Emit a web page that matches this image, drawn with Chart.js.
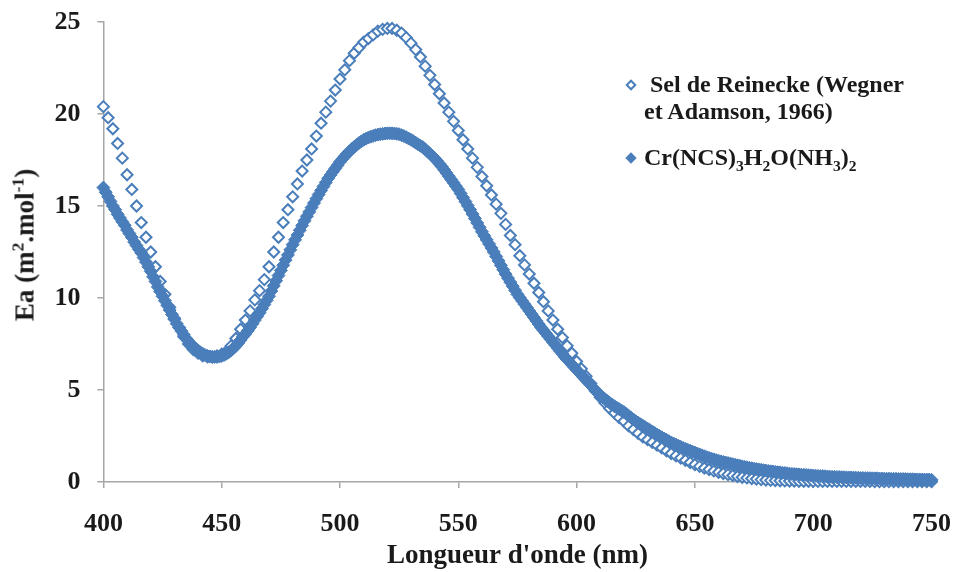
<!DOCTYPE html>
<html>
<head>
<meta charset="utf-8">
<script src="https://cdn.jsdelivr.net/npm/chart.js@4/dist/chart.umd.min.js"></script>
<style>
  html, body { margin: 0; padding: 0; background: #fff; }
  #wrap { position: relative; width: 953px; height: 572px; overflow: hidden; }
  #chart { position: absolute; left: 0; top: 0; }
  .serif { font-family: "Liberation Serif", "Times New Roman", serif; font-weight: bold; color: #1a1a1a; }
  #ytitle { position: absolute; left: 25px; top: 245px; font-size: 27px; white-space: nowrap;
            transform: translate(-50%, -50%) rotate(-90deg); }
  #legend { position: absolute; left: 622px; top: 71px; font-size: 24px; line-height: 27px; }
  .item { position: relative; padding-left: 22px; }
  .mk { position: absolute; left: 5px; width: 8px; height: 8px; transform: rotate(45deg); box-sizing: border-box; }
  .mk.open { border: 2px solid #4A7EBB; background: #fff; top: 10px; }
  .mk.fill { background: #4A7EBB; top: 10px; }
  sup, sub { font-size: 65%; line-height: 0; }
</style>
</head>
<body>
<div id="wrap">
  <canvas id="chart" width="953" height="572"></canvas>
  <div id="ytitle" class="serif">Ea (m<sup>2</sup>.mol<sup>-1</sup>)</div>
  <div id="legend" class="serif">
    <div class="item"><span class="mk open"></span>&nbsp;Sel de Reinecke (Wegner<br>et Adamson, 1966)</div>
    <div class="item" style="margin-top:19px"><span class="mk fill"></span>Cr(NCS)<sub>3</sub>H<sub>2</sub>O(NH<sub>3</sub>)<sub>2</sub></div>
  </div>
</div>
<script>
// ---------- Data ----------
const BLUE = '#4A7EBB';
const seriesNames = ['Sel de Reinecke (Wegner et Adamson, 1966)', 'Cr(NCS)3H2O(NH3)2'];
const xTicks = [400, 450, 500, 550, 600, 650, 700, 750];
const yTicks = [0, 5, 10, 15, 20, 25];

// Sel de Reinecke, one value every 2 nm from 400 to 750
const reineckeStart = 400, reineckeStep = 2;
const reineckeEa = [
  20.4, 19.8, 19.2, 18.4, 17.6, 16.7, 15.9, 15.0, 14.1, 13.3,
  12.5, 11.7, 10.9, 10.2, 9.5, 8.9, 8.4, 7.9, 7.5, 7.2,
  7.0, 6.85, 6.8, 6.8, 6.85, 6.95, 7.1, 7.4, 7.8, 8.3,
  8.8, 9.3, 9.9, 10.4, 11.0, 11.7, 12.5, 13.3, 14.1, 14.8,
  15.5, 16.2, 16.9, 17.5, 18.1, 18.8, 19.5, 20.1, 20.7, 21.3,
  21.9, 22.4, 22.9, 23.3, 23.6, 23.9, 24.1, 24.3, 24.5, 24.6,
  24.65, 24.65, 24.55, 24.4, 24.15, 23.85, 23.5, 23.1, 22.6, 22.1,
  21.6, 21.1, 20.6, 20.1, 19.6, 19.1, 18.6, 18.1, 17.6, 17.1,
  16.6, 16.1, 15.6, 15.1, 14.6, 14.0, 13.4, 12.9, 12.3, 11.8,
  11.3, 10.8, 10.3, 9.8, 9.3, 8.8, 8.3, 7.85, 7.4, 7.0,
  6.55, 6.15, 5.75, 5.35, 4.95, 4.6, 4.3, 4.0, 3.75, 3.5,
  3.3, 3.05, 2.85, 2.65, 2.45, 2.3, 2.15, 2.0, 1.85, 1.7,
  1.55, 1.42, 1.3, 1.18, 1.06, 0.95, 0.85, 0.76, 0.68, 0.6,
  0.53, 0.46, 0.4, 0.35, 0.3, 0.26, 0.22, 0.19, 0.16, 0.13,
  0.11, 0.09, 0.08, 0.07, 0.06, 0.05, 0.05, 0.04, 0.04, 0.04,
  0.03, 0.03, 0.03, 0.03, 0.03, 0.03, 0.03, 0.03, 0.03, 0.03,
  0.03, 0.03, 0.03, 0.02, 0.02, 0.02, 0.02, 0.02, 0.02, 0.02,
  0.02, 0.02, 0.02, 0.02, 0.02, 0.02
];

// Cr(NCS)3H2O(NH3)2, one value every nm from 400 to 750
const complexStart = 400, complexStep = 1;
const complexEa = [
  16.0, 15.75, 15.5, 15.25, 15.0, 14.8, 14.55, 14.35, 14.15, 13.95,
  13.7, 13.5, 13.3, 13.05, 12.85, 12.65, 12.45, 12.2, 11.95, 11.7,
  11.45, 11.15, 10.9, 10.6, 10.35, 10.1, 9.85, 9.6, 9.35, 9.1,
  8.85, 8.6, 8.4, 8.2, 8.0, 7.8, 7.65, 7.5, 7.35, 7.25,
  7.15, 7.05, 6.97, 6.9, 6.85, 6.82, 6.8, 6.8, 6.8, 6.82,
  6.85, 6.9, 6.97, 7.05, 7.15, 7.27, 7.4, 7.55, 7.72, 7.9,
  8.05, 8.22, 8.4, 8.6, 8.8, 9.0, 9.2, 9.42, 9.64, 9.87,
  10.1, 10.38, 10.66, 10.94, 11.22, 11.5, 11.78, 12.06, 12.34, 12.62,
  12.9, 13.16, 13.42, 13.68, 13.94, 14.2, 14.44, 14.68, 14.92, 15.16,
  15.4, 15.62, 15.84, 16.06, 16.28, 16.5, 16.68, 16.86, 17.04, 17.22,
  17.4, 17.55, 17.7, 17.84, 17.97, 18.1, 18.21, 18.32, 18.42, 18.51,
  18.6, 18.66, 18.72, 18.77, 18.81, 18.85, 18.88, 18.9, 18.92, 18.94,
  18.95, 18.95, 18.95, 18.94, 18.92, 18.9, 18.85, 18.8, 18.74, 18.67,
  18.6, 18.52, 18.44, 18.35, 18.27, 18.2, 18.08, 17.96, 17.84, 17.72,
  17.6, 17.45, 17.3, 17.14, 16.97, 16.8, 16.62, 16.44, 16.26, 16.08,
  15.9, 15.68, 15.46, 15.24, 15.02, 14.8, 14.56, 14.32, 14.08, 13.84,
  13.6, 13.38, 13.16, 12.94, 12.72, 12.5, 12.26, 12.02, 11.78, 11.54,
  11.3, 11.08, 10.86, 10.64, 10.42, 10.2, 10.02, 9.84, 9.66, 9.48,
  9.3, 9.12, 8.94, 8.76, 8.58, 8.4, 8.24, 8.08, 7.92, 7.76,
  7.6, 7.44, 7.28, 7.12, 6.96, 6.8, 6.66, 6.52, 6.38, 6.24,
  6.1, 5.96, 5.82, 5.68, 5.54, 5.4, 5.26, 5.12, 4.98, 4.84,
  4.7, 4.6, 4.5, 4.4, 4.3, 4.2, 4.12, 4.04, 3.96, 3.88,
  3.8, 3.7, 3.6, 3.5, 3.4, 3.3, 3.22, 3.14, 3.06, 2.98,
  2.9, 2.82, 2.74, 2.66, 2.58, 2.5, 2.43, 2.36, 2.29, 2.22,
  2.15, 2.09, 2.03, 1.97, 1.91, 1.85, 1.8, 1.75, 1.7, 1.65,
  1.6, 1.55, 1.5, 1.45, 1.4, 1.35, 1.31, 1.27, 1.23, 1.19,
  1.15, 1.12, 1.09, 1.06, 1.03, 1.0, 0.97, 0.94, 0.91, 0.88,
  0.85, 0.82, 0.8, 0.77, 0.75, 0.72, 0.7, 0.68, 0.66, 0.64,
  0.62, 0.6, 0.58, 0.57, 0.55, 0.53, 0.52, 0.5, 0.49, 0.47,
  0.45, 0.44, 0.43, 0.42, 0.41, 0.4, 0.39, 0.38, 0.37, 0.36,
  0.35, 0.34, 0.33, 0.32, 0.32, 0.31, 0.3, 0.29, 0.28, 0.28,
  0.27, 0.27, 0.26, 0.26, 0.25, 0.25, 0.24, 0.24, 0.23, 0.23,
  0.22, 0.22, 0.21, 0.21, 0.21, 0.2, 0.2, 0.2, 0.19, 0.19,
  0.18, 0.18, 0.18, 0.17, 0.17, 0.17, 0.16, 0.16, 0.16, 0.16,
  0.15, 0.15, 0.15, 0.14, 0.14, 0.14, 0.13, 0.13, 0.13, 0.13,
  0.12
];

// wavelength grid for each series
const toPoints = (vals, start, step) => vals.map((v, i) => ({ x: start + i * step, y: v }));

// ---------- Chart ----------
const AXIS_GREY = '#a6a6a6';
const tickFont = { family: '"Liberation Serif", "Times New Roman", serif', size: 26, weight: 'bold' };

new Chart(document.getElementById('chart').getContext('2d'), {
  type: 'scatter',
  data: {
    datasets: [
      {
        label: seriesNames[1],
        data: toPoints(complexEa, complexStart, complexStep),
        pointStyle: 'rectRot', radius: 6.5,
        backgroundColor: BLUE, borderColor: BLUE, borderWidth: 1,
        order: 0
      },
      {
        label: seriesNames[0],
        data: toPoints(reineckeEa, reineckeStart, reineckeStep),
        pointStyle: 'rectRot', radius: 5.5,
        backgroundColor: '#fff', borderColor: BLUE, borderWidth: 2,
        order: 1
      }
    ]
  },
  options: {
    responsive: false,
    animation: false,
    devicePixelRatio: 1,
    clip: false,
    layout: { padding: { top: 22, right: 21.5, left: 0, bottom: 0 } },
    plugins: { legend: { display: false }, tooltip: { enabled: false } },
    scales: {
      x: {
        type: 'linear', min: 400, max: 750,
        afterBuildTicks: s => { s.ticks = xTicks.map(v => ({ value: v })); },
        afterFit: s => { s.height = 90; s.paddingLeft = 0; s.paddingRight = 0; },
        border: { color: AXIS_GREY, width: 1.5 },
        grid: { drawOnChartArea: false, drawTicks: true, tickLength: 6, color: AXIS_GREY, lineWidth: 1.5 },
        ticks: { color: '#1a1a1a', font: tickFont, padding: 21, maxRotation: 0 },
        title: { display: true, text: "Longueur d'onde (nm)", color: '#1a1a1a',
                 font: { family: tickFont.family, size: 27, weight: 'bold' }, padding: { top: 6, bottom: 0 } }
      },
      y: {
        min: 0, max: 25,
        afterBuildTicks: s => { s.ticks = yTicks.map(v => ({ value: v })); },
        afterFit: s => { s.width = 103.4; s.paddingTop = 0; s.paddingBottom = 0; },
        border: { color: AXIS_GREY, width: 1.5 },
        grid: { drawOnChartArea: false, drawTicks: true, tickLength: 6, color: AXIS_GREY, lineWidth: 1.5 },
        ticks: { color: '#1a1a1a', font: tickFont, padding: 17 }
      }
    }
  }
});
</script>
</body>
</html>
